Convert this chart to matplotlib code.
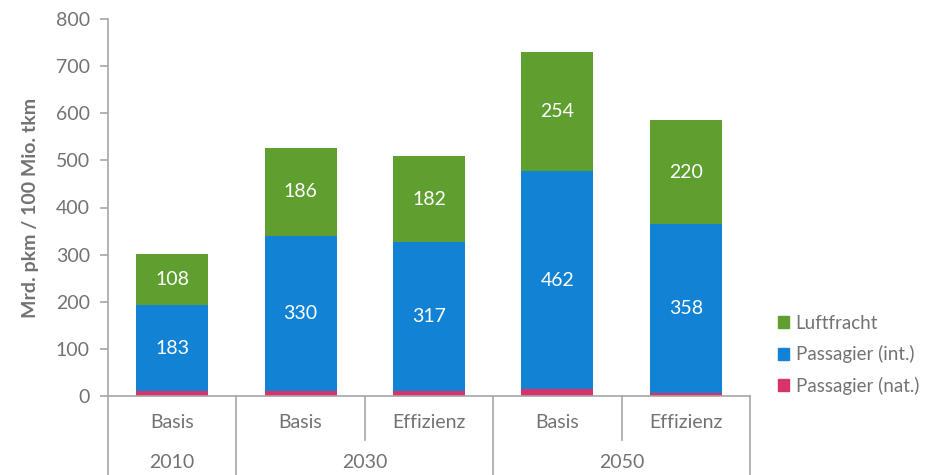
import matplotlib
matplotlib.use("Agg")
import matplotlib.pyplot as plt
from matplotlib.patches import Patch
from matplotlib.transforms import blended_transform_factory

# data
scenarios = ["Basis", "Basis", "Effizienz", "Basis", "Effizienz"]
years = ["2010", "2030", "2050"]
year_span = [(0, 0), (1, 2), (3, 4)]
pass_nat = [10, 10, 10, 15, 7]
pass_int = [183, 330, 317, 462, 358]
luftfracht = [108, 186, 182, 254, 220]

c_nat = "#D6336C"
c_int = "#1282D4"
c_luft = "#5F9F2F"
grey_txt = "#767171"
grey_line = "#A6A6A6"

plt.rcParams["font.family"] = ["Lato", "DejaVu Sans"]

fig = plt.figure(figsize=(9.28, 4.75), dpi=100)
ax = fig.add_axes([108 / 928, 79 / 475, 642 / 928, 377 / 475])

x = list(range(len(scenarios)))
w = 0.56
ax.bar(x, pass_nat, w, color=c_nat)
ax.bar(x, pass_int, w, bottom=pass_nat, color=c_int)
bot2 = [a + b for a, b in zip(pass_nat, pass_int)]
ax.bar(x, luftfracht, w, bottom=bot2, color=c_luft)

for i in x:
    ax.text(i, pass_nat[i] + pass_int[i] / 2, str(pass_int[i]), ha="center",
            va="center", color="white", fontsize=14)
    ax.text(i, bot2[i] + luftfracht[i] / 2, str(luftfracht[i]), ha="center",
            va="center", color="white", fontsize=14)

ax.set_xlim(-0.5, 4.5)
ax.set_ylim(0, 800)
ax.set_yticks(range(0, 801, 100))
ax.set_xticks([])
ax.tick_params(axis="y", colors=grey_line, labelcolor=grey_txt, labelsize=14,
               length=6, width=1.2, pad=7)
for s in ("top", "right"):
    ax.spines[s].set_visible(False)
for s in ("left", "bottom"):
    ax.spines[s].set_color(grey_line)
    ax.spines[s].set_linewidth(1.2)
ax.set_ylabel("Mrd. pkm / 100 Mio. tkm", color=grey_txt, fontsize=14,
              fontweight="bold", labelpad=12)

# two-level category axis
tr = blended_transform_factory(ax.transData, ax.transAxes)
y_sub = -44 / 377
y_low = -80 / 377
for xb in (-0.5, 0.5, 2.5, 4.5):
    ax.plot([xb, xb], [0, y_low], transform=tr, color=grey_line, lw=1.2,
            clip_on=False)
for xb in (1.5, 3.5):
    ax.plot([xb, xb], [0, y_sub], transform=tr, color=grey_line, lw=1.2,
            clip_on=False)
for i, lab in enumerate(scenarios):
    ax.text(i, -26 / 377, lab, transform=tr, ha="center", va="center",
            color=grey_txt, fontsize=14)
for lab, (a, b) in zip(years, year_span):
    ax.text((a + b) / 2, -67 / 377, lab, transform=tr, ha="center",
            va="center", color=grey_txt, fontsize=14)

handles = [Patch(color=c_luft, label="Luftfracht"),
           Patch(color=c_int, label="Passagier (int.)"),
           Patch(color=c_nat, label="Passagier (nat.)")]
leg = fig.legend(handles=handles, loc="upper left",
                 bbox_to_anchor=(761 / 928, 1 - 298 / 475), frameon=False,
                 handlelength=0.6, handleheight=0.6, handletextpad=0.35,
                 labelspacing=0.72, fontsize=13.5)
for t in leg.get_texts():
    t.set_color(grey_txt)

fig.savefig("out.png", dpi=100)
